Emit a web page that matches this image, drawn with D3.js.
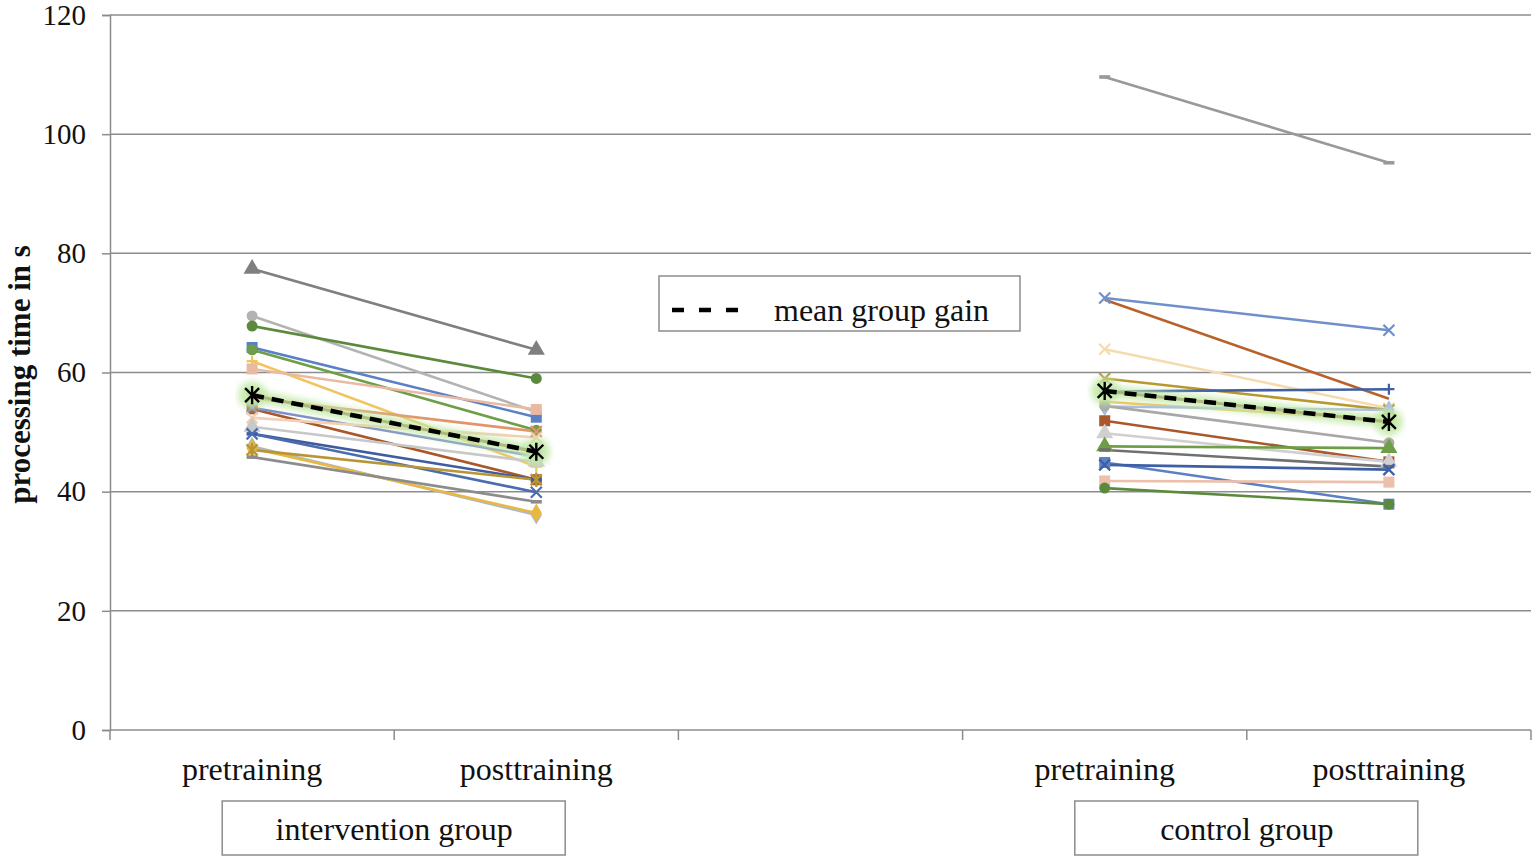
<!DOCTYPE html>
<html>
<head>
<meta charset="utf-8">
<script src="https://cdn.jsdelivr.net/npm/d3@7"></script>
<style>
  body { margin: 0; background: #fff; }
  text { font-family: "Liberation Serif", "Times New Roman", serif; fill: #111; }
</style>
</head>
<body>
<svg id="chart" width="1536" height="859"></svg>
<script>
// categories along the x axis (the middle one is an empty spacer)
const categories = ["pre_i", "post_i", "gap", "pre_c", "post_c"];
const categoryLabels = {pre_i: "pretraining", post_i: "posttraining", pre_c: "pretraining", post_c: "posttraining"};
const groupNames = ["intervention group", "control group"];
const yTicks = [0, 20, 40, 60, 80, 100, 120];

// intervention group, one entry per participant
const interventionPre  = [77.4, 69.5, 67.8, 64.2, 63.8, 61.9, 60.6, 55.7, 53.9, 54.1, 52.4, 50.9, 49.7, 49.7, 47.6, 47.3, 47.0, 45.8];
const interventionPost = [63.8, 53.4, 59.0, 52.5, 50.3, 44.2, 53.8, 50.1, 42.0, 45.9, 49.1, 45.0, 42.0, 39.9, 36.1, 36.4, 42.0, 38.3];
const interventionColors = ["#7f7f7f", "#b3b3b3", "#5b8a3c", "#5b80c4", "#6f9e48", "#f2c45e", "#e9b9a2", "#e0956a", "#a8582a",
                            "#7a8ccc", "#f3cfb3", "#c8c8c8", "#3f5d9e", "#4a6db0", "#a9b8d8", "#e8b840", "#b89535", "#8c8c8c"];
const interventionMarkers = ["triangle", "circle", "circle", "square", "circle", "plus", "square", "x", "square",
                             "x", "x", "triangle", "dash", "x", "diamond", "diamond", "star", "dash"];

// control group
const controlPre  = [109.6, 72.5, 72.2, 63.9, 59.0, 56.8, 55.1, 54.3, 54.4, 51.9, 49.8, 47.6, 47.0, 44.9, 44.5, 41.8, 40.6];
const controlPost = [95.2, 67.1, 55.6, 54.0, 53.7, 57.2, 52.0, 53.7, 48.2, 45.0, 45.0, 47.3, 44.2, 37.9, 43.7, 41.6, 37.9];
const controlColors = ["#999999", "#7090cc", "#b8622a", "#f5dcae", "#b8962e", "#3f5fa5", "#f2c45e", "#a9bde0", "#a8a8a8",
                       "#a8582a", "#d0d0d0", "#6f9e48", "#707070", "#5b80c4", "#3f5fa5", "#ecc0aa", "#5b8a3c"];
const controlMarkers = ["dash", "x", "none", "x", "x", "plus", "dash", "diamond", "circle",
                        "square", "triangle", "triangle", "dash", "square", "x", "square", "circle"];

// mean group gain
const meanIntervention = [56.2, 46.7];
const meanControl = [56.9, 51.7];

const svg = d3.select("#chart");

const x = d3.scaleBand().domain(categories).range([110, 1531]);
const y = d3.scaleLinear().domain([0, 120]).range([730, 15]);
const cx = c => x(c) + x.bandwidth() / 2;

const defs = svg.append("defs");
defs.append("filter").attr("id", "glow").attr("x", "-10%").attr("y", "-50%").attr("width", "120%").attr("height", "200%")
  .append("feGaussianBlur").attr("stdDeviation", 3);

// gridlines
svg.append("g")
  .selectAll("line")
  .data(yTicks.filter(d => d > 0)).enter()
  .append("line")
  .attr("x1", 110).attr("x2", 1531)
  .attr("y1", d => y(d)).attr("y2", d => y(d))
  .attr("stroke", "#8c8c8c").attr("stroke-width", 1.5);

// y axis
const yAxis = svg.append("g")
  .attr("transform", "translate(110,0)")
  .call(d3.axisLeft(y).tickValues(yTicks).tickSize(8).tickPadding(16));
yAxis.select(".domain").attr("stroke", "#8c8c8c").attr("stroke-width", 1.5);
yAxis.selectAll(".tick line").attr("stroke", "#8c8c8c").attr("stroke-width", 1.5);
yAxis.selectAll(".tick text").style("font-family", "Liberation Serif").style("font-size", "29px").attr("fill", "#111");

// x axis line with ticks at band boundaries
svg.append("line")
  .attr("x1", 110).attr("x2", 1531).attr("y1", y(0)).attr("y2", y(0))
  .attr("stroke", "#8c8c8c").attr("stroke-width", 1.5);
const bounds = categories.map(c => x(c)).concat([x.range()[1]]);
svg.append("g").selectAll("line")
  .data(bounds).enter()
  .append("line")
  .attr("x1", d => d).attr("x2", d => d)
  .attr("y1", y(0)).attr("y2", y(0) + 10)
  .attr("stroke", "#8c8c8c").attr("stroke-width", 1.5);

// category labels
svg.append("g").selectAll("text")
  .data(categories.filter(c => categoryLabels[c])).enter()
  .append("text")
  .attr("x", cx).attr("y", 780)
  .attr("text-anchor", "middle")
  .style("font-size", "32px")
  .text(c => categoryLabels[c]);

// group boxes
const groupCenters = [x("post_i"), x("post_c")];
groupNames.forEach((name, i) => {
  const g = svg.append("g");
  g.append("rect")
    .attr("x", groupCenters[i] - 172).attr("y", 801)
    .attr("width", 343).attr("height", 54)
    .attr("fill", "#fff").attr("stroke", "#8c8c8c").attr("stroke-width", 1.5);
  g.append("text")
    .attr("x", groupCenters[i]).attr("y", 840)
    .attr("text-anchor", "middle")
    .style("font-size", "32px")
    .text(name);
});

// y axis title
svg.append("text")
  .attr("transform", "translate(30," + (y(60) + 2) + ") rotate(-90)")
  .attr("text-anchor", "middle")
  .style("font-size", "31px")
  .style("font-weight", "bold")
  .text("processing time in s");

function marker(sel, type, color, s) {
  if (type === "circle") {
    sel.append("circle").attr("r", s).attr("fill", color);
  } else if (type === "square") {
    sel.append("rect").attr("x", -s).attr("y", -s).attr("width", 2 * s).attr("height", 2 * s).attr("fill", color);
  } else if (type === "triangle") {
    sel.append("path").attr("d", d3.symbol(d3.symbolTriangle, 4.2 * s * s)()).attr("fill", color);
  } else if (type === "diamond") {
    sel.append("path").attr("d", d3.symbol(d3.symbolDiamond, 3.6 * s * s)()).attr("fill", color);
  } else if (type === "dash") {
    sel.append("rect").attr("x", -s).attr("y", -1.8).attr("width", 2 * s).attr("height", 3.6).attr("fill", color);
  } else if (type === "x") {
    sel.append("path").attr("d", `M${-s},${-s}L${s},${s}M${-s},${s}L${s},${-s}`)
      .attr("stroke", color).attr("stroke-width", 2.2);
  } else if (type === "plus") {
    sel.append("path").attr("d", `M${-s},0L${s},0M0,${-s}L0,${s}`)
      .attr("stroke", color).attr("stroke-width", 2.2);
  } else if (type === "star") {
    sel.append("path").attr("d", `M${-s},${-s}L${s},${s}M${-s},${s}L${s},${-s}M0,${-s * 1.3}L0,${s * 1.3}`)
      .attr("stroke", color).attr("stroke-width", 2.4);
  }
}

function drawGroup(pre, post, colors, markers, c0, c1) {
  const rows = pre.map((v, i) => ({pre: v, post: post[i], color: colors[i], marker: markers[i]}));
  const g = svg.append("g");
  const line = d3.line().x(d => d[0]).y(d => y(d[1]));
  rows.forEach(r => {
    g.append("path")
      .attr("d", line([[cx(c0), r.pre], [cx(c1), r.post]]))
      .attr("stroke", r.color).attr("stroke-width", 2.6).attr("fill", "none");
  });
  rows.forEach(r => {
    [[c0, r.pre], [c1, r.post]].forEach(p => {
      const m = g.append("g").attr("transform", `translate(${cx(p[0])},${y(p[1])})`);
      marker(m, r.marker, r.color, 5.5);
    });
  });
}

drawGroup(interventionPre, interventionPost, interventionColors, interventionMarkers, "pre_i", "post_i");
drawGroup(controlPre, controlPost, controlColors, controlMarkers, "pre_c", "post_c");

function drawMean(vals, c0, c1) {
  const pts = [[cx(c0), vals[0]], [cx(c1), vals[1]]];
  const line = d3.line().x(d => d[0]).y(d => y(d[1]));
  const g = svg.append("g");
  g.append("path").attr("d", line(pts))
    .attr("stroke", "#c2e8a6").attr("stroke-width", 12).attr("stroke-linecap", "round")
    .attr("fill", "none").attr("opacity", 0.85).attr("filter", "url(#glow)");
  pts.forEach(p => {
    g.append("circle").attr("cx", p[0]).attr("cy", y(p[1])).attr("r", 14)
      .attr("fill", "#c2e8a6").attr("opacity", 0.85).attr("filter", "url(#glow)");
  });
  g.append("path").attr("d", line(pts))
    .attr("stroke", "#9a9a5a").attr("stroke-width", 3).attr("fill", "none").attr("opacity", 0.6);
  g.append("path").attr("d", line(pts))
    .attr("stroke", "#000").attr("stroke-width", 4.5).attr("stroke-dasharray", "12,8").attr("fill", "none");
  pts.forEach(p => {
    const m = g.append("g").attr("transform", `translate(${p[0]},${y(p[1])})`);
    marker(m, "star", "#000", 7);
  });
}

drawMean(meanIntervention, "pre_i", "post_i");
drawMean(meanControl, "pre_c", "post_c");

// legend
const legend = svg.append("g");
legend.append("rect")
  .attr("x", 659).attr("y", 276).attr("width", 361).attr("height", 55)
  .attr("fill", "#fff").attr("stroke", "#8c8c8c").attr("stroke-width", 1.5);
legend.append("line")
  .attr("x1", 672).attr("x2", 740).attr("y1", 310).attr("y2", 310)
  .attr("stroke", "#000").attr("stroke-width", 4.5).attr("stroke-dasharray", "12,15");
legend.append("text")
  .attr("x", 774).attr("y", 321)
  .style("font-size", "32px")
  .text("mean group gain");
</script>
</body>
</html>
